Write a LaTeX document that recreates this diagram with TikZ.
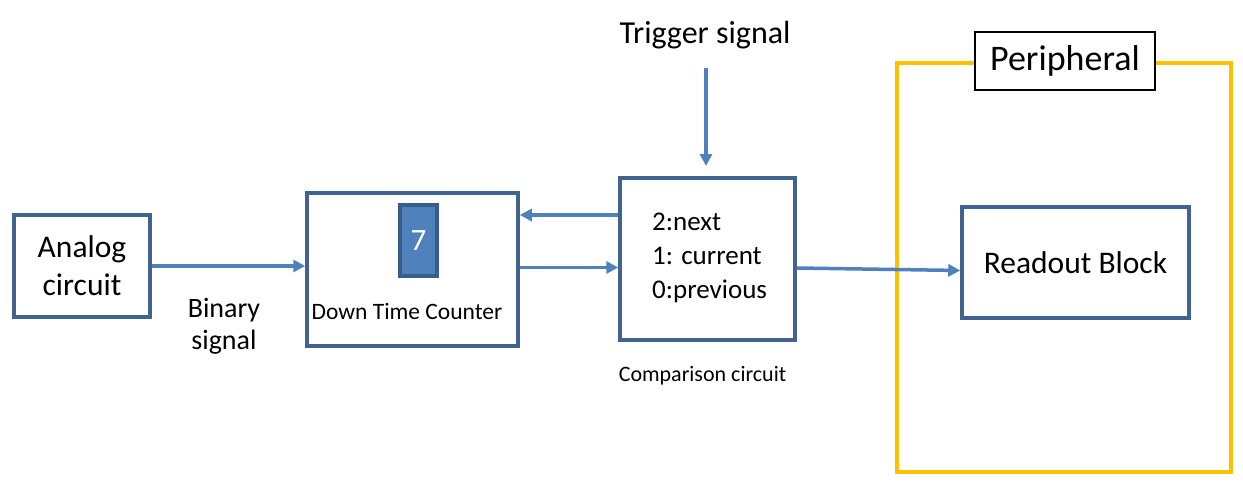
\documentclass[tikz,border=0pt]{standalone}
\usepackage{fontspec}
\setmainfont{Carlito}
\usetikzlibrary{arrows.meta,positioning}
\definecolor{blkedge}{HTML}{41638F}
\definecolor{arrblue}{HTML}{4F81BD}
\definecolor{segedge}{HTML}{385D8A}
\definecolor{perigold}{HTML}{FFC000}

\begin{document}
\begin{tikzpicture}[
  x=1pt, y=-1pt,
  blk/.style={rectangle, draw=blkedge, line width=3.5pt, fill=white, align=center, inner sep=0pt},
  lbl/.style={align=center, inner sep=0pt},
  arr/.style={-{Triangle[length=12pt,width=12pt]}, draw=arrblue, line width=3.5pt}
]
\useasboundingbox (0,0) rectangle (1243,487);

% peripheral frame
\draw[perigold, line width=4.5pt] (897,63) rectangle (1231,472);
\node[rectangle, draw=black, line width=1.5pt, fill=white, minimum width=180pt, minimum height=58pt,
      font=\fontsize{36}{40}\selectfont] (peri) at (1065,61) {Peripheral};

\node[blk, minimum width=136pt, minimum height=102pt, font=\fontsize{31.5}{38}\selectfont] (analog) at (82,266) {Analog\\circuit};
\node[blk, minimum width=211pt, minimum height=153pt] (dtc) at (412.5,269.5) {};
\node[rectangle, draw=segedge, line width=3.5pt, fill=arrblue, minimum width=37pt, minimum height=71pt,
      text=white, font=\fontsize{31}{34}\selectfont] (seven) at (418.5,240.5) {7};
\node[lbl, font=\fontsize{23.5}{26}\selectfont] (dtclbl) at (407,312) {Down Time Counter};
\node[blk, minimum width=175pt, minimum height=162pt] (cmp) at (707.5,259) {};
\node[lbl, anchor=west, align=left, font=\fontsize{27}{34}\selectfont] (cmptxt) at (652,258) {2:next\\1: current\\0:previous};
\node[lbl, font=\fontsize{22}{26}\selectfont, below=24pt of cmp, xshift=-5pt] (cmplbl) {Comparison circuit};
\node[blk, minimum width=227pt, minimum height=111pt, font=\fontsize{31.5}{36}\selectfont] (readout) at (1075.5,262.5) {Readout Block};

\node[lbl, font=\fontsize{32}{36}\selectfont] (trig) at (705,35) {Trigger signal};
\node[lbl, font=\fontsize{28}{32}\selectfont] (binary) at (224,326) {Binary\\signal};
\coordinate (trigtop) at (706,68);
\coordinate (trigend) at (706,166);

\draw[arr] (trigtop) -- (trigend);
\draw[arr] (analog.east) -- (analog.east -| dtc.west);
\draw[arr] ([yshift=44pt]cmp.west) -- ([yshift=44pt]cmp.west -| dtc.east);
\draw[arr] ([yshift=2pt]dtc.east) -- ([yshift=2pt]dtc.east -| cmp.west);
\draw[arr] ([yshift=-9pt]cmp.east) -- ([yshift=-8pt]readout.west);
\end{tikzpicture}
\end{document}
